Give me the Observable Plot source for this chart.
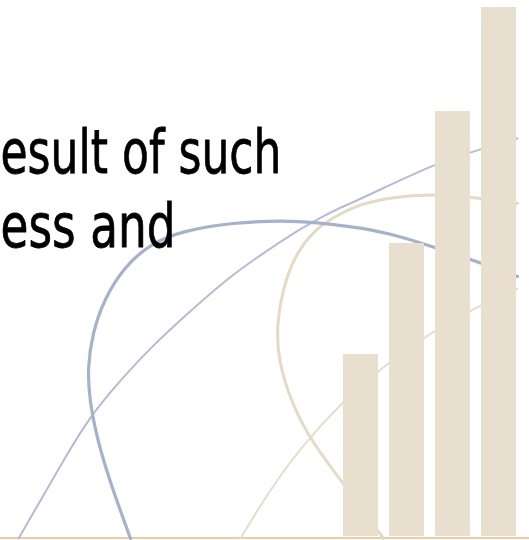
<!DOCTYPE html>
<html><head><meta charset="utf-8">
<script src="https://cdn.jsdelivr.net/npm/d3@7"></script>
<script src="https://cdn.jsdelivr.net/npm/@observablehq/plot@0.6"></script>
<style>
html,body{margin:0;padding:0;background:#fff;}
#wrap{position:relative;width:529px;height:540px;overflow:hidden;background:#fff;}
#wrap svg{position:absolute;left:0;top:0;}
</style></head><body><div id="wrap"></div>
<script>
// ---- data ----
const barCategories = ["1", "2", "3", "4"];
const barValues = [182, 293, 425, 529];

const textLines = ["esult of such", "ess and"];
const textY = [364, 290];
const textX = [0, 0];
const textLengths = [281, 175];

const blueArcX = [130, 110, 97, 89, 87, 92, 103, 123, 150, 183, 233, 283, 317, 350, 387, 435, 482, 517];
const blueArcY = [-2, 53, 96, 136, 169, 203, 236, 269, 293, 306, 314, 316, 314, 310, 304, 289, 273, 260];

const blueThinX = [18, 40, 67, 89, 117, 150, 187, 233, 267, 300, 333, 350, 380, 435, 482, 517];
const blueThinY = [-2, 36, 83, 119, 153, 189, 223, 263, 286, 308, 326, 333, 347, 373, 388, 398];

const beigeArcX = [383, 343, 310, 290, 278, 276, 282, 293, 313, 333, 353, 387, 435, 482, 517];
const beigeArcY = [-2, 53, 96, 136, 176, 209, 246, 279, 306, 319, 330, 339, 343, 338, 333];

const beigeThinX = [240, 267, 300, 343, 385, 432, 477, 517];
const beigeThinY = [-2, 43, 89, 136, 172, 205, 230, 248];

// ---- build ----
const W = 529, H = 540;
const yDomain = [-4, 536];
const pts = (xs, ys) => xs.map((x, i) => ({x, y: ys[i]}));
const texts = textLines.map((t, i) => ({t, x: textX[i], y: textY[i]}));
const bars = barCategories.map((c, i) => ({c, v: barValues[i]}));

const back = Plot.plot({
  width: W, height: H, margin: 0,
  x: {domain: [0, W], axis: null},
  y: {domain: yDomain, axis: null},
  style: {background: "transparent"},
  marks: [
    Plot.ruleY([0], {dy: 1.5, stroke: "#edcca3", strokeWidth: 2}),
    Plot.line(pts(beigeThinX, beigeThinY), {x: "x", y: "y", stroke: "#e6ddca", strokeWidth: 2, curve: "basis"}),
    Plot.line(pts(beigeArcX, beigeArcY), {x: "x", y: "y", stroke: "#e4dac5", strokeWidth: 3, curve: "basis"}),
    Plot.line(pts(blueThinX, blueThinY), {x: "x", y: "y", stroke: "#b2bcd3", strokeWidth: 2, curve: "basis"}),
    Plot.line(pts(blueArcX, blueArcY), {x: "x", y: "y", stroke: "#a6b2ca", strokeWidth: 3.2, curve: "basis"}),
    Plot.text(texts, {x: "x", y: "y", text: "t", textAnchor: "start", lineAnchor: "bottom",
      fontSize: 60, fontFamily: "DejaVu Sans, sans-serif", fill: "#000", stroke: "#000", strokeWidth: 0.8})
  ]
});
d3.select(back).selectAll('g[aria-label="text"] text').each(function(d, i) {
  this.setAttribute("textLength", textLengths[i]);
  this.setAttribute("lengthAdjust", "spacingAndGlyphs");
});

const front = Plot.plot({
  width: W, height: H,
  marginLeft: 342, marginRight: 12, marginTop: 0, marginBottom: 0,
  x: {type: "band", domain: barCategories, paddingInner: 0.24, paddingOuter: 0, axis: null},
  y: {domain: yDomain, axis: null},
  style: {background: "transparent"},
  marks: [
    Plot.barY(bars, {x: "c", y: "v", fill: "#e8dfcf"})
  ]
});

const wrap = document.getElementById("wrap");
wrap.appendChild(back);
wrap.appendChild(front);
</script>
</body></html>
